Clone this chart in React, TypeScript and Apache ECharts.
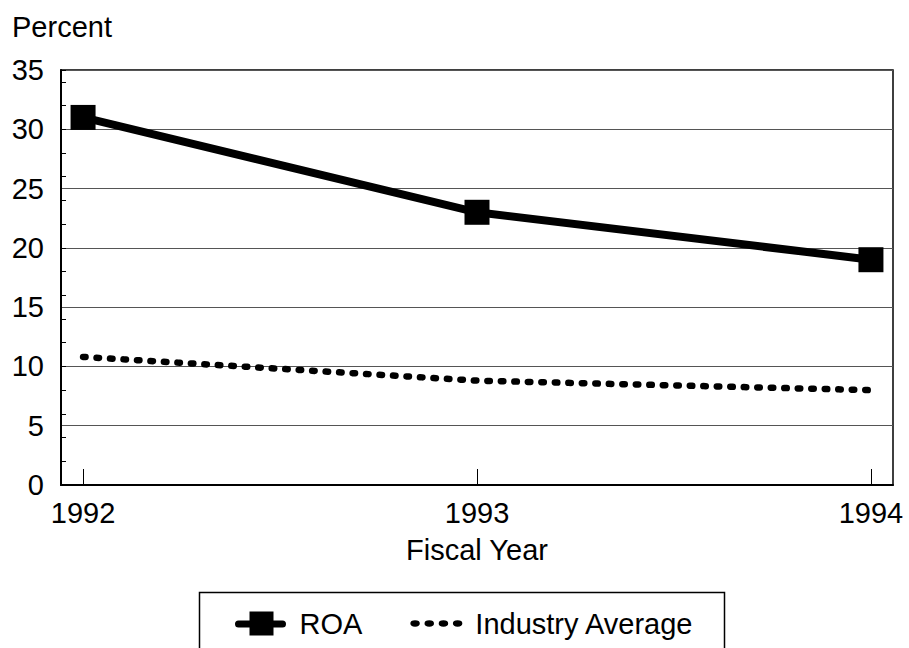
import React, { useEffect, useRef } from "react";
import * as echarts from "echarts";

const years = [1992, 1993, 1994];
const roa = [31, 23, 19];
const industryAverage = [10.8, 8.8, 8.0];
const yTicks = [0, 5, 10, 15, 20, 25, 30, 35];

const FONT = "Arial, 'Liberation Sans', Helvetica, sans-serif";
const FS = 29;

const roaIcon =
  "path://M4,9 L48,9 A3.5,3.5 0 0,1 48,16 L4,16 A3.5,3.5 0 0,1 4,9 Z M15,0 L39,0 L39,24 L15,24 Z";
const dot = (cx: number) =>
  `M${cx - 4.5},3 A4.5,3 0 1,0 ${cx + 4.5},3 A4.5,3 0 1,0 ${cx - 4.5},3 Z`;
const dotsIcon = "path://" + [4.5, 18, 31.5, 45].map(dot).join(" ");

export default function App() {
  const ref = useRef<HTMLDivElement>(null);
  useEffect(() => {
    if (!ref.current) return;
    const chart = echarts.init(ref.current, null, { renderer: "svg" });
    chart.setOption({
      animation: false,
      backgroundColor: "#fff",
      textStyle: { fontFamily: FONT, color: "#000" },
      grid: {
        left: 61,
        right: 16,
        top: 70,
        bottom: 163,
        show: true,
        borderColor: "#000",
        borderWidth: 1.5,
        containLabel: false,
      },
      graphic: [
        {
          type: "text",
          left: 12,
          top: 12,
          style: { text: "Percent", fontSize: FS, fontFamily: FONT, fill: "#000" },
        },
        {
          type: "rect",
          left: 197,
          top: 590,
          shape: { width: 525, height: 80 },
          style: { fill: "none", stroke: "#000", lineWidth: 1.5 },
        },
      ],
      legend: {
        left: 230,
        top: 604,
        itemWidth: 52,
        itemHeight: 24,
        itemGap: 48,
        textStyle: { fontSize: FS, fontFamily: FONT, color: "#000", padding: [0, 0, 0, 8] },
        data: [
          { name: "ROA", icon: roaIcon },
          { name: "Industry Average", icon: dotsIcon },
        ],
      },
      xAxis: {
        type: "value",
        min: 1991.944,
        max: 1994.056,
        name: "Fiscal Year",
        nameLocation: "middle",
        nameGap: 50,
        nameTextStyle: { fontSize: FS, fontFamily: FONT, color: "#000" },
        axisLine: { show: true, lineStyle: { color: "#000", width: 2 } },
        axisTick: {
          show: true,
          inside: true,
          length: 16,
          customValues: years,
          lineStyle: { color: "#000", width: 1 },
        },
        axisLabel: {
          customValues: years,
          fontSize: FS,
          fontFamily: FONT,
          color: "#000",
          margin: 13,
          formatter: (v: number) => String(Math.round(v)),
        },
        splitLine: { show: false },
      },
      yAxis: [
        {
          type: "value",
          min: 0,
          max: 35,
          interval: 5,
          axisLine: { show: true, lineStyle: { color: "#000", width: 2 } },
          axisTick: { show: false },
          axisLabel: {
            fontSize: FS,
            fontFamily: FONT,
            color: "#000",
            margin: 17,
            customValues: yTicks,
          },
          splitLine: { show: true, lineStyle: { color: "#555", width: 1 } },
        },
        {
          type: "value",
          min: 0,
          max: 35,
          interval: 2,
          position: "left",
          axisLine: { show: false },
          axisTick: { show: true, inside: true, length: 5, lineStyle: { color: "#000", width: 1 } },
          axisLabel: { show: false },
          splitLine: { show: false },
        },
      ],
      series: [
        {
          name: "ROA",
          type: "line",
          data: years.map((y, i) => [y, roa[i]]),
          symbol: "rect",
          symbolSize: 25,
          lineStyle: { color: "#000", width: 8 },
          itemStyle: { color: "#000" },
          z: 3,
        },
        {
          name: "Industry Average",
          type: "line",
          data: years.map((y, i) => [y, industryAverage[i]]),
          symbol: "none",
          lineStyle: { color: "#000", width: 6.5, type: [2.5, 11], cap: "round" },
          itemStyle: { color: "#000" },
          z: 2,
        },
      ],
    });
    return () => chart.dispose();
  }, []);
  return <div ref={ref} style={{ width: 909, height: 648, position: "absolute", left: 0, top: 0 }} />;
}
